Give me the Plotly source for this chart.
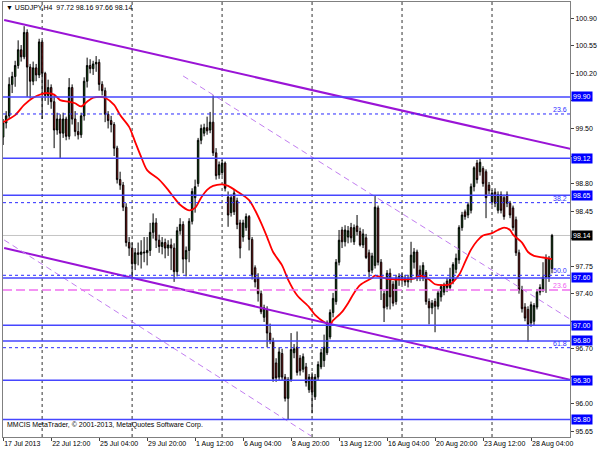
import plotly.graph_objects as go

# ---------------- DATA ----------------
open_ = [99.39, 99.57, 99.66, 100.06, 100.16, 100.30, 100.50, 100.41, 100.72, 100.28,
         100.10, 100.27, 100.18, 100.60, 100.20, 99.92, 100.02, 99.84, 99.48, 99.62,
         99.44, 99.62, 99.40, 100.02, 99.62, 99.46, 99.42, 99.66, 100.10, 100.30,
         100.26, 100.32, 100.34, 100.06, 99.98, 99.68, 99.60, 99.55, 99.25, 98.85,
         98.78, 98.50, 98.05, 97.98, 97.78, 97.92, 97.90, 97.93, 97.92, 97.95,
         98.18, 98.30, 98.08, 98.00, 98.05, 97.98, 98.02, 97.98, 97.68, 98.20,
         98.28, 97.84, 97.95, 98.32, 98.62, 98.80, 99.35, 99.44, 99.51, 99.48,
         99.58, 99.19, 98.91, 98.94, 99.06, 98.63, 98.43, 98.68, 98.58, 98.30,
         98.12, 98.24, 98.38, 98.09, 97.73, 97.60, 97.40, 97.10, 97.20, 96.90,
         96.80, 96.52, 96.34, 96.64, 96.34, 96.07, 96.31, 96.65, 96.72, 96.58,
         96.44, 96.47, 96.18, 96.34, 96.09, 96.34, 96.47, 96.55, 96.65, 96.85,
         97.16, 97.30, 97.80, 98.21, 98.06, 98.12, 98.24, 98.06, 98.26, 98.19,
         98.02, 98.11, 97.92, 97.70, 97.76, 98.49, 97.80, 97.40, 97.24, 97.66,
         97.52, 97.30, 97.58, 97.62, 97.60, 97.55, 97.58, 97.80, 97.93, 97.70,
         97.60, 97.67, 97.30, 97.22, 97.30, 97.24, 97.36, 97.42, 97.56, 97.48,
         97.56, 97.71, 97.83, 98.24, 98.44, 98.40, 98.46, 98.76, 99.06, 98.95,
         98.99, 98.95, 98.78, 98.57, 98.69, 98.46, 98.66, 98.62, 98.66, 98.55,
         98.49, 98.34, 97.92, 97.45, 97.23, 97.20, 97.03, 97.05, 97.23, 97.42,
         97.45, 97.85, 97.61, 97.72]
high = [99.62, 99.72, 100.15, 100.22, 100.36, 100.62, 100.56, 100.80, 100.76, 100.32,
        100.35, 100.32, 100.64, 100.62, 100.22, 100.12, 100.06, 99.92, 99.70, 99.68,
        99.70, 99.65, 100.14, 100.06, 99.72, 99.58, 99.70, 100.15, 100.40, 100.38,
        100.36, 100.42, 100.38, 100.10, 100.02, 99.72, 99.66, 99.58, 99.28, 98.95,
        98.82, 98.55, 98.12, 98.05, 97.98, 98.05, 98.08, 98.12, 98.12, 98.30,
        98.42, 98.36, 98.15, 98.12, 98.10, 98.08, 98.10, 98.04, 98.25, 98.36,
        98.32, 98.00, 98.36, 98.74, 98.85, 99.38, 99.55, 99.56, 99.65, 99.71,
        99.92, 99.25, 99.08, 99.10, 99.08, 98.70, 98.66, 98.72, 98.62, 98.34,
        98.34, 98.42, 98.40, 98.12, 97.76, 97.66, 97.44, 97.26, 97.24, 97.02,
        96.84, 96.58, 96.72, 96.70, 96.38, 96.34, 96.90, 96.76, 96.92, 96.62,
        96.64, 96.52, 96.38, 96.40, 96.38, 96.54, 96.70, 96.88, 97.06, 97.20,
        97.41, 97.84, 98.21, 98.25, 98.27, 98.26, 98.30, 98.28, 98.40, 98.24,
        98.22, 98.16, 97.96, 97.92, 98.65, 98.52, 97.84, 97.44, 97.70, 97.72,
        97.56, 97.64, 97.66, 97.66, 97.64, 97.64, 98.06, 97.98, 97.96, 97.76,
        97.80, 97.70, 97.34, 97.32, 97.34, 97.44, 97.52, 97.54, 97.60, 97.73,
        97.80, 97.91, 98.27, 98.44, 98.47, 98.56, 98.80, 99.02, 99.10, 99.12,
        99.02, 98.98, 98.82, 98.72, 98.74, 98.70, 98.70, 98.66, 98.70, 98.58,
        98.52, 98.38, 97.96, 97.50, 97.28, 97.24, 97.30, 97.28, 97.46, 97.52,
        97.80, 97.90, 97.88, 98.16]
low = [99.29, 99.50, 99.62, 99.95, 100.03, 100.26, 100.35, 100.38, 99.90, 99.88,
       100.05, 100.10, 100.14, 99.62, 99.85, 99.80, 99.75, 99.25, 99.42, 99.12,
       99.38, 99.35, 99.36, 99.55, 99.40, 99.36, 99.38, 99.60, 100.02, 100.20,
       100.18, 100.22, 99.98, 99.92, 99.58, 99.50, 99.45, 99.15, 98.80, 98.72,
       98.45, 98.00, 97.88, 97.61, 97.70, 97.76, 97.72, 97.80, 97.76, 97.88,
       98.10, 97.98, 97.92, 97.90, 97.85, 97.88, 97.70, 97.55, 97.62, 98.15,
       97.66, 97.62, 97.80, 98.28, 98.43, 98.76, 99.30, 99.40, 99.42, 99.44,
       99.15, 98.85, 98.86, 98.90, 98.70, 98.25, 98.38, 98.40, 98.22, 97.85,
       98.06, 98.20, 97.95, 97.58, 97.48, 97.30, 97.14, 97.04, 96.72, 96.76,
       96.28, 96.28, 96.30, 96.30, 96.03, 95.80, 96.28, 96.58, 96.36, 96.36,
       96.40, 96.22, 96.14, 95.88, 96.05, 96.30, 96.44, 96.47, 96.62, 96.82,
       97.10, 97.26, 97.76, 97.98, 98.00, 98.04, 98.05, 98.02, 98.14, 98.00,
       97.98, 97.84, 97.61, 97.66, 97.72, 97.76, 97.32, 97.04, 97.20, 97.20,
       97.24, 97.26, 97.50, 97.52, 97.50, 97.48, 97.54, 97.72, 97.56, 97.56,
       97.56, 97.26, 97.01, 97.14, 96.91, 97.20, 97.30, 97.38, 97.42, 97.44,
       97.52, 97.66, 97.78, 98.20, 98.34, 98.36, 98.42, 98.70, 98.80, 98.90,
       98.76, 98.36, 98.66, 98.52, 98.50, 98.42, 98.42, 98.34, 98.50, 98.36,
       98.20, 97.88, 97.40, 97.16, 97.05, 96.79, 96.98, 97.00, 97.20, 97.38,
       97.42, 97.41, 97.55, 97.66]
close = [99.57, 99.66, 100.06, 100.16, 100.30, 100.50, 100.41, 100.72, 100.28, 100.10,
         100.27, 100.18, 100.60, 100.20, 99.92, 100.02, 99.84, 99.48, 99.62, 99.44,
         99.62, 99.40, 100.02, 99.62, 99.46, 99.42, 99.66, 100.10, 100.30, 100.26,
         100.32, 100.34, 100.06, 99.98, 99.68, 99.60, 99.55, 99.25, 98.85, 98.78,
         98.50, 98.05, 97.98, 97.78, 97.92, 97.90, 97.93, 97.92, 97.95, 98.18,
         98.30, 98.08, 98.00, 98.05, 97.98, 98.02, 97.98, 97.68, 98.20, 98.28,
         97.84, 97.95, 98.32, 98.70, 98.76, 99.35, 99.50, 99.51, 99.47, 99.58,
         99.19, 98.90, 99.04, 99.06, 98.74, 98.40, 98.62, 98.44, 98.28, 97.98,
         98.30, 98.38, 98.09, 97.64, 97.55, 97.40, 97.17, 97.22, 96.90, 96.80,
         96.32, 96.33, 96.66, 96.34, 96.07, 96.31, 96.69, 96.70, 96.40, 96.42,
         96.60, 96.27, 96.34, 96.15, 96.34, 96.50, 96.65, 96.72, 97.03, 97.16,
         97.34, 97.80, 98.08, 98.06, 98.21, 98.20, 98.11, 98.24, 98.19, 98.02,
         98.16, 97.86, 97.68, 97.88, 98.50, 97.80, 97.45, 97.22, 97.66, 97.36,
         97.28, 97.60, 97.62, 97.58, 97.55, 97.60, 97.89, 97.93, 97.60, 97.62,
         97.76, 97.30, 97.22, 97.28, 97.24, 97.41, 97.49, 97.51, 97.48, 97.58,
         97.77, 97.85, 98.24, 98.40, 98.38, 98.53, 98.76, 99.00, 98.85, 99.07,
         98.80, 98.62, 98.71, 98.68, 98.55, 98.66, 98.46, 98.38, 98.55, 98.40,
         98.24, 97.92, 97.45, 97.21, 97.09, 97.01, 97.26, 97.25, 97.42, 97.48,
         97.61, 97.61, 97.85, 98.14]

# moving average (red line): bar index -> price
ma_bar = [0, 4, 7, 10, 13, 15, 17, 19, 22, 24, 26, 28, 30, 33, 34, 37, 39, 42, 44, 46,
          48, 52, 55, 57, 59, 62, 64, 66, 68, 70, 73, 75, 78, 82, 84, 86, 88, 90, 93, 95,
          98, 102, 104, 107, 109, 110, 113, 115, 117, 119, 123, 124, 128, 133, 137, 139,
          142, 144, 147, 149, 152, 154, 156, 158, 160, 163, 165, 167, 169, 170, 173, 175,
          177, 180, 183]
ma_val = [99.58, 99.67, 99.80, 99.89, 99.94, 99.95, 99.93, 99.86, 99.84, 99.82, 99.78,
          99.84, 99.89, 99.90, 99.89, 99.80, 99.67, 99.52, 99.33, 99.14, 98.97, 98.85,
          98.72, 98.62, 98.53, 98.46, 98.49, 98.62, 98.72, 98.77, 98.79, 98.77, 98.70,
          98.59, 98.46, 98.30, 98.12, 97.93, 97.76, 97.58, 97.38, 97.23, 97.13, 97.04,
          97.01, 97.06, 97.17, 97.28, 97.41, 97.51, 97.60, 97.63, 97.59, 97.58, 97.59,
          97.63, 97.58, 97.52, 97.51, 97.52, 97.64, 97.80, 97.96, 98.07, 98.14, 98.17,
          98.21, 98.24, 98.21, 98.15, 98.05, 97.93, 97.88, 97.86, 97.84]

date_labels = ["17 Jul 2013", "22 Jul 12:00", "25 Jul 04:00", "29 Jul 20:00", "1 Aug 12:00",
               "6 Aug 04:00", "8 Aug 20:00", "13 Aug 12:00", "16 Aug 04:00", "20 Aug 20:00",
               "23 Aug 12:00", "28 Aug 04:00"]
date_label_bars = [0, 16, 32, 48, 64, 80, 96, 112, 128, 144, 160, 176]
grid_bars = [13, 43, 73, 103, 133, 163]
price_ticks = [100.90, 100.55, 100.20, 99.85, 99.50, 99.15, 98.80, 98.45, 98.10, 97.75,
               97.40, 97.05, 96.70, 96.35, 96.00, 95.65]
# tick labels hidden behind the price-level boxes on the right axis
price_tick_text = ["100.90", "100.55", "100.20", "", "99.50", "", "98.80", "98.45", "",
                   "97.75", "97.40", "", "96.70", "", "96.00", "95.65"]

level_lines = [99.90, 99.12, 98.65, 97.60, 97.00, 96.80, 96.30, 95.80]
fib_levels = [99.684, 98.557, 97.634, 96.714]
fib_labels = ["23.6", "38.2", "50.0", "61.8"]
pink_level = 97.447
pink_label = "23.6"
last_price = 98.14

thick_upper_bars, thick_upper_prices = [0.33, 189.33], [100.878, 99.239]
thick_lower_bars, thick_lower_prices = [0.33, 189.33], [97.981, 96.304]
dash_upper_bars, dash_upper_prices = [60.0, 189.33], [100.167, 97.069]
dash_lower_bars, dash_lower_prices = [0.33, 102.67], [98.083, 95.592]

title_text = "\u25bc USDJPY,H4  97.72 98.16 97.66 98.14"
copyright_text = "MMCIS MetaTrader, \u00a9 2001-2013, MetaQuotes Software Corp."

# ---------------- FIGURE ----------------
FONT = "Liberation Sans, Arial, sans-serif"
BLUE = "#4646ff"
PURPLE = "#9a14d6"

fig = go.Figure()

fig.add_trace(go.Candlestick(
    x=list(range(len(close))), open=open_, high=high, low=low, close=close,
    increasing=dict(fillcolor="#0b6b0b", line=dict(color="black", width=1)),
    decreasing=dict(fillcolor="#d81414", line=dict(color="black", width=1)),
    whiskerwidth=0, showlegend=False, hoverinfo="skip"))

fig.add_trace(go.Scatter(x=ma_bar, y=ma_val, mode="lines", line=dict(color="#ff0000", width=1.8,
                         shape="spline", smoothing=0.8), showlegend=False, hoverinfo="skip"))

for bx, py in [(thick_upper_bars, thick_upper_prices), (thick_lower_bars, thick_lower_prices)]:
    fig.add_trace(go.Scatter(x=bx, y=py, mode="lines", line=dict(color=PURPLE, width=2),
                             showlegend=False, hoverinfo="skip"))
for bx, py in [(dash_upper_bars, dash_upper_prices), (dash_lower_bars, dash_lower_prices)]:
    fig.add_trace(go.Scatter(x=bx, y=py, mode="lines",
                             line=dict(color="#c27ef0", width=1, dash="6px,4px"),
                             showlegend=False, hoverinfo="skip"))

shapes = []
for gb in grid_bars:
    shapes.append(dict(type="line", xref="x", yref="paper", x0=gb, x1=gb, y0=0, y1=1,
                       line=dict(color="#333333", width=1, dash="dot"), layer="below"))
shapes.append(dict(type="line", xref="paper", yref="y", x0=0, x1=1, y0=last_price, y1=last_price,
                   line=dict(color="#c4c4c4", width=1), layer="below"))
for lv in level_lines:
    shapes.append(dict(type="line", xref="paper", yref="y", x0=0, x1=1, y0=lv, y1=lv,
                       line=dict(color=BLUE, width=1.5), layer="above"))
for lv in fib_levels:
    shapes.append(dict(type="line", xref="paper", yref="y", x0=0, x1=1, y0=lv, y1=lv,
                       line=dict(color="#2a2aff", width=1, dash="dot"), layer="above"))
shapes.append(dict(type="line", xref="paper", yref="y", x0=0, x1=1, y0=pink_level, y1=pink_level,
                   line=dict(color="#f070f0", width=1.5, dash="9px,4px"), layer="above"))

ann = []
for lv in level_lines:
    ann.append(dict(xref="paper", yref="y", x=1, y=lv, xanchor="left", yanchor="middle",
                    xshift=1, text="%.2f" % lv, showarrow=False, bgcolor="#0000ff",
                    font=dict(family=FONT, size=7, color="white"), borderpad=1))
ann.append(dict(xref="paper", yref="y", x=1, y=last_price, xanchor="left", yanchor="middle",
                xshift=1, text="%.2f" % last_price, showarrow=False, bgcolor="#000000",
                font=dict(family=FONT, size=7, color="white"), borderpad=1))
for lv, lb in zip(fib_levels, fib_labels):
    ann.append(dict(xref="paper", yref="y", x=0.996, y=lv, xanchor="right", yanchor="bottom",
                    text=lb, showarrow=False, font=dict(family=FONT, size=7, color="#3030ff"),
                    borderpad=0))
ann.append(dict(xref="paper", yref="y", x=0.996, y=pink_level, xanchor="right", yanchor="bottom",
                text=pink_label, showarrow=False, font=dict(family=FONT, size=7, color="#f060f0"),
                borderpad=0))
ann.append(dict(xref="paper", yref="paper", x=0, y=1, xanchor="left", yanchor="top", xshift=2,
                yshift=-1, text=title_text, showarrow=False,
                font=dict(family=FONT, size=7, color="black"), borderpad=0))
ann.append(dict(xref="paper", yref="paper", x=0, y=0.028, xanchor="left", yanchor="middle",
                xshift=3, text=copyright_text, showarrow=False,
                font=dict(family=FONT, size=7, color="black"), borderpad=0))

fig.update_layout(
    width=600, height=450,
    margin=dict(l=3, r=30, t=2, b=13, autoexpand=False),
    paper_bgcolor="white", plot_bgcolor="white",
    showlegend=False,
    shapes=shapes, annotations=ann,
    xaxis=dict(range=[-0.05, 189.0], rangeslider=dict(visible=False), showgrid=False,
               zeroline=False, tickmode="array", tickvals=date_label_bars, ticktext=date_labels,
               ticks="outside", ticklen=3, tickcolor="#444444", ticklabelposition="outside right",
               tickangle=0, automargin=False,
               tickfont=dict(family=FONT, size=7, color="black"),
               showline=True, linecolor="#808080", linewidth=1, mirror=True),
    yaxis=dict(range=[95.579, 101.107], side="right", showgrid=False, zeroline=False,
               tickmode="array", tickvals=price_ticks, ticktext=price_tick_text,
               ticks="outside", ticklen=3, tickcolor="#444444", automargin=False,
               tickfont=dict(family=FONT, size=7, color="black"),
               showline=True, linecolor="#808080", linewidth=1, mirror=True),
)

fig.write_html("out.html", config={"displayModeBar": False},
               post_script="document.body.style.margin='0px';")
